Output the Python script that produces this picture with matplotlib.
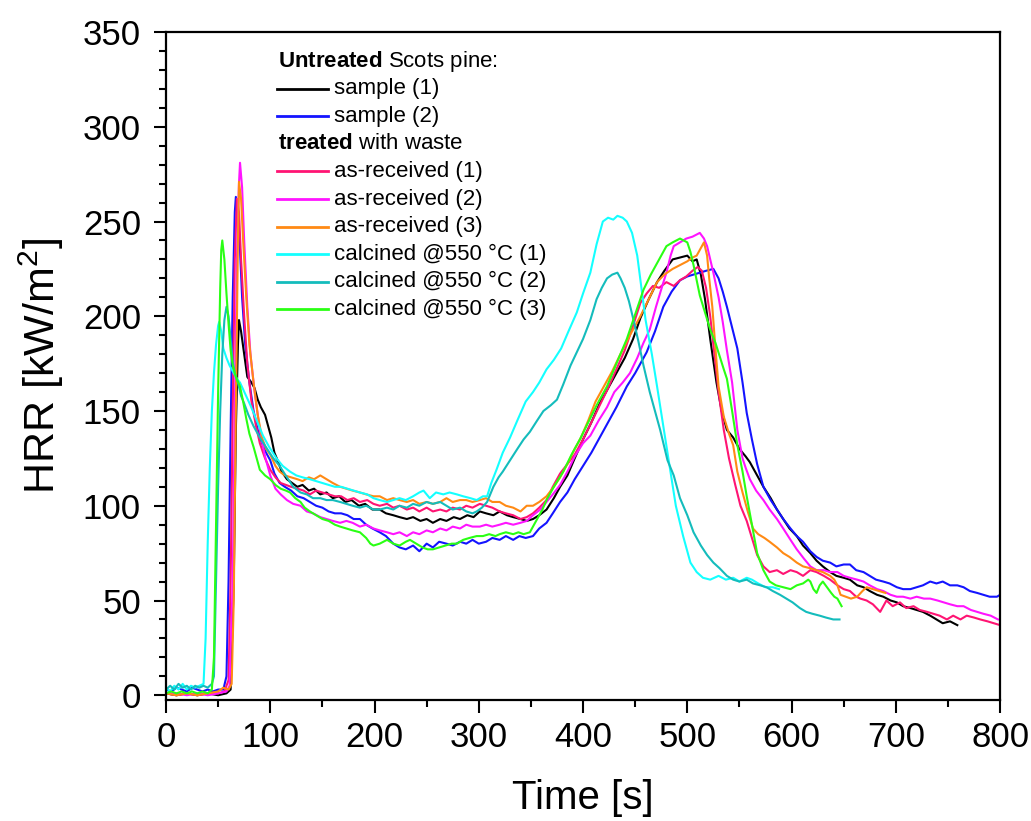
import numpy as np
import matplotlib
matplotlib.use('Agg')
import matplotlib.pyplot as plt
from matplotlib.ticker import MultipleLocator

plt.rcParams['font.family'] = ['Liberation Sans', 'DejaVu Sans']
plt.rcParams['mathtext.fontset'] = 'custom'
plt.rcParams['mathtext.rm'] = 'Liberation Sans'
plt.rcParams['mathtext.bf'] = 'Liberation Sans:bold'

# --- data: (time [s], HRR [kW/m2]) ---
black_t = [0, 10, 20, 30, 40, 50, 58, 62, 65, 67, 69, 70, 72, 75, 78, 82, 85, 88, 91, 95, 98, 101, 104, 107, 111, 116, 121, 126, 131, 137, 142, 148, 154, 160, 166, 172, 178, 185, 191, 198, 205, 211, 218, 224, 231, 237, 244, 250, 256, 263, 269, 276, 282, 289, 295, 301, 307, 314, 320, 327, 333, 340, 346, 352, 358, 365, 372, 378, 385, 392, 400, 408, 416, 424, 432, 440, 448, 455, 463, 471, 478, 486, 493, 500, 505, 509, 513, 517, 522, 528, 533, 538, 544, 550, 556, 560, 566, 573, 580, 586, 592, 598, 605, 611, 618, 624, 630, 637, 643, 650, 656, 663, 669, 675, 682, 688, 695, 701, 707, 714, 720, 726, 733, 739, 745, 752, 759]
black_v = [1, 0, 1, 0, 1, 0, 1, 3, 60, 140, 185, 198, 192, 180, 168, 165, 162, 156, 152, 148, 142, 136, 128, 124, 118, 114, 112, 110, 111, 108, 109, 106, 107, 104, 105, 102, 103, 100, 101, 98, 98, 96, 95, 94, 93, 94, 92, 93, 91, 93, 92, 94, 93, 95, 94, 97, 96, 95, 97, 95, 94, 93, 92, 93, 95, 98, 104, 110, 116, 125, 135, 144, 154, 162, 170, 178, 188, 199, 209, 218, 224, 230, 231, 232, 229, 230, 222, 209, 188, 165, 150, 140, 136, 130, 126, 123, 117, 110, 104, 98, 93, 88, 84, 79, 75, 71, 68, 65, 63, 62, 61, 58, 57, 55, 53, 52, 50, 49, 47, 46, 45, 44, 42, 40, 38, 39, 37]

blue_t = [0, 5, 10, 15, 20, 25, 30, 35, 40, 45, 50, 55, 58, 60, 62, 64, 66, 67, 69, 71, 73, 76, 80, 84, 88, 92, 96, 100, 104, 109, 114, 120, 126, 132, 138, 144, 150, 156, 162, 168, 174, 180, 186, 192, 198, 205, 211, 218, 224, 230, 237, 243, 250, 256, 262, 269, 275, 282, 288, 294, 300, 307, 313, 320, 326, 333, 339, 345, 352, 358, 365, 371, 378, 385, 392, 400, 408, 416, 424, 432, 442, 450, 461, 469, 477, 485, 493, 500, 506, 512, 518, 525, 530, 534, 538, 543, 548, 553, 557, 562, 567, 573, 580, 586, 592, 599, 605, 611, 618, 624, 630, 637, 643, 650, 656, 662, 669, 675, 681, 688, 694, 701, 707, 714, 720, 726, 733, 739, 745, 752, 759, 765, 771, 778, 784, 790, 797, 800]
blue_v = [3, 2, 4, 3, 2, 4, 3, 2, 3, 2, 3, 3, 10, 60, 140, 210, 255, 263, 255, 235, 210, 185, 165, 150, 140, 133, 128, 124, 117, 112, 110, 108, 105, 104, 102, 100, 99, 97, 96, 96, 95, 93, 93, 90, 88, 86, 84, 80, 78, 77, 79, 76, 80, 78, 81, 80, 79, 81, 80, 82, 80, 81, 83, 82, 84, 82, 84, 83, 84, 88, 91, 96, 102, 107, 114, 121, 128, 136, 144, 152, 163, 170, 181, 192, 205, 213, 219, 221, 222, 223, 224, 225, 220, 213, 205, 194, 183, 165, 149, 135, 122, 110, 103, 98, 93, 88, 84, 81, 76, 73, 71, 70, 68, 69, 69, 66, 65, 63, 61, 60, 59, 57, 56, 56, 57, 58, 60, 59, 60, 58, 58, 57, 55, 54, 53, 52, 52, 53]

red_t = [0, 10, 20, 30, 40, 50, 56, 60, 62, 64, 66, 68, 70, 72, 75, 78, 82, 86, 90, 95, 100, 105, 110, 115, 120, 126, 132, 138, 144, 150, 156, 162, 168, 174, 180, 186, 193, 199, 205, 212, 218, 224, 231, 237, 243, 250, 256, 263, 269, 275, 282, 288, 294, 301, 307, 313, 320, 326, 333, 340, 346, 352, 358, 365, 371, 378, 385, 392, 400, 408, 416, 424, 432, 440, 448, 455, 461, 467, 473, 480, 487, 493, 499, 505, 510, 514, 518, 522, 526, 530, 535, 540, 546, 551, 557, 562, 567, 573, 579, 586, 592, 599, 605, 611, 618, 624, 631, 637, 644, 650, 656, 662, 666, 672, 678, 685, 691, 697, 704, 710, 717, 723, 730, 736, 742, 749, 755, 762, 768, 775, 781, 788, 794, 800]
red_v = [1, 0, 1, 0, 1, 1, 2, 8, 60, 150, 230, 262, 255, 230, 200, 175, 155, 143, 133, 125, 119, 115, 112, 111, 110, 109, 108, 106, 108, 107, 106, 105, 105, 103, 104, 102, 103, 101, 100, 101, 99, 100, 98, 99, 97, 99, 97, 98, 97, 99, 98, 100, 99, 101, 100, 99, 97, 96, 95, 93, 94, 96, 99, 103, 110, 117, 122, 127, 135, 144, 153, 162, 172, 182, 195, 207, 212, 216, 215, 218, 216, 219, 221, 224, 226, 224, 215, 200, 180, 160, 140, 125, 111, 100, 92, 83, 74, 68, 65, 66, 64, 66, 65, 63, 66, 65, 63, 61, 58, 56, 55, 52, 51, 50, 48, 44, 50, 47, 49, 46, 47, 45, 44, 43, 42, 40, 42, 40, 42, 41, 40, 39, 38, 37]

magenta_t = [0, 10, 20, 30, 40, 50, 58, 61, 64, 66, 68, 70, 71, 73, 75, 78, 81, 85, 90, 95, 100, 105, 110, 116, 122, 129, 135, 141, 148, 154, 160, 167, 173, 179, 186, 192, 199, 205, 212, 218, 224, 231, 237, 243, 250, 256, 263, 269, 275, 282, 288, 294, 301, 307, 313, 320, 326, 333, 340, 346, 352, 359, 365, 371, 378, 385, 392, 400, 407, 415, 423, 430, 438, 445, 452, 458, 464, 470, 476, 480, 484, 487, 493, 499, 505, 512, 516, 519, 522, 525, 530, 534, 538, 543, 548, 553, 556, 560, 566, 573, 579, 586, 592, 599, 605, 612, 618, 624, 631, 637, 644, 650, 656, 663, 669, 675, 682, 688, 695, 701, 707, 714, 720, 727, 733, 740, 746, 752, 759, 765, 772, 778, 784, 791, 798]
magenta_v = [1, 1, 0, 1, 0, 1, 2, 5, 60, 150, 230, 270, 281, 268, 240, 205, 180, 160, 140, 126, 116, 109, 106, 103, 101, 100, 97, 96, 94, 93, 92, 91, 92, 91, 89, 90, 88, 87, 86, 85, 86, 84, 86, 85, 87, 86, 88, 87, 89, 88, 90, 89, 89, 90, 89, 90, 91, 90, 91, 92, 95, 98, 102, 106, 111, 118, 126, 133, 137, 145, 152, 160, 165, 170, 178, 186, 193, 205, 216, 223, 232, 237, 239, 241, 242, 244, 241, 237, 230, 223, 210, 197, 182, 165, 140, 125, 120, 114, 108, 103, 98, 93, 88, 82, 77, 72, 68, 66, 66, 65, 65, 63, 62, 61, 60, 58, 56, 55, 53, 52, 52, 51, 52, 51, 51, 50, 49, 48, 47, 47, 45, 44, 43, 42, 40]

orange_t = [0, 10, 20, 30, 40, 50, 55, 60, 63, 65, 67, 69, 70, 72, 74, 77, 80, 84, 88, 92, 96, 100, 105, 109, 114, 120, 126, 131, 137, 142, 148, 154, 160, 167, 173, 179, 186, 192, 199, 205, 212, 218, 224, 231, 237, 243, 250, 256, 263, 269, 275, 282, 288, 294, 301, 307, 313, 320, 326, 333, 340, 346, 352, 358, 365, 372, 378, 385, 392, 398, 405, 412, 420, 428, 435, 445, 455, 463, 471, 478, 486, 493, 500, 505, 509, 513, 516, 519, 521, 524, 527, 530, 535, 540, 544, 548, 553, 558, 563, 568, 574, 579, 586, 592, 598, 605, 611, 618, 624, 630, 637, 641, 644, 647, 652, 657, 663, 668, 672, 678, 684, 690]
orange_v = [1, 0, 1, 0, 1, 2, 4, 3, 6, 50, 150, 240, 271, 262, 240, 210, 185, 165, 148, 136, 130, 127, 121, 118, 116, 115, 114, 113, 115, 114, 116, 114, 112, 110, 109, 108, 107, 106, 105, 105, 103, 104, 103, 102, 103, 101, 102, 101, 102, 104, 102, 103, 103, 102, 103, 104, 102, 102, 100, 99, 97, 100, 100, 102, 105, 110, 115, 122, 130, 136, 145, 155, 163, 171, 179, 190, 200, 209, 218, 222, 225, 227, 229, 231, 232, 236, 239, 232, 220, 205, 183, 163, 147, 138, 132, 118, 107, 97, 88, 85, 83, 81, 78, 75, 73, 70, 68, 67, 66, 65, 63, 61, 58, 53, 52, 51, 52, 55, 57, 56, 55, 54]

cyan_t = [0, 4, 8, 12, 16, 20, 24, 28, 32, 36, 38, 40, 42, 44, 46, 48, 50, 51, 53, 55, 58, 61, 65, 68, 71, 76, 81, 87, 93, 99, 106, 112, 119, 125, 131, 138, 144, 150, 156, 162, 168, 174, 180, 186, 193, 199, 205, 212, 218, 224, 230, 237, 243, 247, 253, 259, 266, 272, 279, 285, 292, 298, 304, 308, 312, 317, 323, 330, 337, 345, 352, 358, 365, 372, 379, 386, 394, 400, 407, 413, 419, 424, 429, 433, 438, 442, 447, 452, 456, 460, 466, 471, 477, 483, 489, 496, 503, 509, 515, 522, 530, 537, 544, 550, 557, 562, 568, 575, 582, 588]
cyan_v = [4, 2, 5, 3, 6, 3, 5, 4, 5, 6, 30, 80, 120, 150, 170, 185, 195, 197, 192, 183, 178, 174, 170, 167, 165, 159, 153, 145, 137, 131, 125, 121, 118, 116, 115, 114, 113, 112, 111, 110, 110, 109, 108, 107, 106, 104, 103, 102, 103, 104, 103, 105, 107, 108, 104, 107, 106, 107, 106, 105, 104, 103, 105, 105, 112, 119, 128, 136, 145, 155, 160, 165, 172, 177, 183, 192, 202, 212, 223, 238, 250, 252, 251, 253, 252, 250, 244, 232, 215, 198, 180, 163, 142, 121, 100, 84, 70, 65, 62, 61, 63, 61, 62, 60, 62, 61, 59, 57, 57, 56]

teal_t = [0, 4, 8, 12, 16, 20, 24, 28, 32, 36, 40, 44, 46, 48, 50, 52, 54, 56, 58, 60, 62, 64, 66, 69, 72, 75, 79, 84, 90, 97, 103, 109, 116, 122, 129, 135, 141, 148, 154, 160, 167, 173, 179, 186, 192, 199, 205, 212, 218, 224, 231, 237, 243, 250, 256, 263, 269, 275, 282, 288, 294, 298, 303, 308, 314, 319, 323, 330, 337, 343, 349, 356, 362, 369, 375, 381, 388, 394, 400, 407, 413, 418, 423, 428, 433, 436, 440, 444, 448, 453, 458, 464, 469, 474, 481, 487, 493, 500, 506, 513, 519, 525, 531, 538, 544, 550, 557, 563, 570, 576, 582, 589, 595, 601, 608, 614, 620, 627, 633, 640, 646]
teal_v = [3, 5, 3, 6, 4, 5, 3, 5, 4, 5, 4, 6, 10, 60, 110, 150, 180, 198, 205, 200, 188, 176, 170, 165, 158, 154, 148, 142, 136, 130, 125, 121, 115, 110, 107, 106, 104, 104, 103, 103, 102, 101, 100, 99, 100, 98, 98, 99, 98, 100, 99, 101, 100, 102, 101, 102, 100, 98, 99, 97, 96, 97, 99, 102, 110, 115, 118, 124, 130, 135, 139, 145, 150, 153, 156, 164, 174, 181, 188, 198, 209, 215, 220, 222, 223, 220, 215, 208, 199, 187, 174, 160, 150, 140, 124, 116, 104, 95, 86, 79, 74, 70, 67, 63, 61, 60, 61, 59, 58, 57, 55, 53, 51, 49, 46, 44, 43, 42, 41, 40, 40]

green_t = [0, 5, 10, 15, 20, 25, 30, 35, 40, 44, 46, 48, 50, 52, 53, 54, 56, 58, 60, 62, 64, 67, 71, 74, 77, 80, 84, 87, 90, 95, 100, 105, 110, 115, 119, 124, 129, 133, 138, 144, 150, 156, 162, 167, 173, 179, 186, 192, 196, 199, 205, 212, 218, 224, 230, 234, 240, 246, 251, 256, 262, 268, 274, 279, 285, 291, 298, 304, 310, 316, 320, 326, 333, 338, 343, 349, 353, 356, 361, 365, 372, 381, 389, 397, 405, 413, 423, 432, 442, 450, 458, 465, 471, 476, 480, 486, 493, 500, 503, 506, 509, 512, 517, 522, 527, 531, 535, 538, 543, 548, 553, 557, 562, 567, 573, 579, 585, 592, 599, 605, 611, 616, 618, 621, 624, 627, 630, 634, 638, 641, 644, 648]
green_v = [1, 2, 1, 2, 1, 2, 1, 2, 1, 3, 20, 90, 160, 215, 235, 240, 230, 212, 196, 182, 174, 168, 163, 155, 146, 138, 131, 125, 119, 116, 114, 111, 109, 108, 107, 104, 102, 99, 97, 95, 93, 92, 90, 89, 88, 87, 86, 83, 80, 79, 80, 82, 80, 79, 81, 82, 80, 78, 77, 77, 78, 79, 80, 80, 82, 83, 84, 84, 85, 84, 85, 86, 85, 86, 85, 86, 90, 93, 98, 103, 110, 118, 127, 135, 144, 153, 163, 175, 188, 201, 214, 222, 228, 233, 237, 239, 241, 239, 234, 227, 219, 211, 202, 193, 186, 179, 172, 167, 150, 132, 118, 105, 90, 75, 66, 60, 58, 57, 56, 58, 59, 61, 60, 56, 54, 58, 60, 57, 54, 52, 51, 47]

series = [
    ('sample (1)', black_t, black_v, 'black'),
    ('sample (2)', blue_t, blue_v, '#1414ff'),
    ('as-received (1)', red_t, red_v, '#ff1473'),
    ('as-received (2)', magenta_t, magenta_v, '#ff14ff'),
    ('as-received (3)', orange_t, orange_v, '#ff8a14'),
    ('calcined @550 °C (1)', cyan_t, cyan_v, '#14ffff'),
    ('calcined @550 °C (2)', teal_t, teal_v, '#14bcbc'),
    ('calcined @550 °C (3)', green_t, green_v, '#2aff14'),
]

fig = plt.figure(figsize=(10.31, 8.21), dpi=100)
ax = fig.add_axes([0.161, 0.1474, 0.809, 0.8136])

for label, t, v, c in series:
    ax.plot(t, v, color=c, lw=1.5)

ax.set_xlim(0, 800)
ax.set_ylim(-2.5, 350)
ax.xaxis.set_major_locator(MultipleLocator(100))
ax.xaxis.set_minor_locator(MultipleLocator(50))
ax.yaxis.set_major_locator(MultipleLocator(50))
ax.yaxis.set_minor_locator(MultipleLocator(10))
ax.tick_params(which='both', direction='out', top=False, right=False, width=1.5)
ax.tick_params(which='major', length=9, labelsize=25)
ax.tick_params(axis='x', which='major', pad=6)
ax.tick_params(axis='y', which='major', pad=9)
ax.tick_params(which='minor', length=5)
for s in ax.spines.values():
    s.set_linewidth(1.6)

ax.set_xlabel('Time [s]', fontsize=29, labelpad=18)
ax.set_ylabel('HRR [kW/m$^2$]', fontsize=31, labelpad=12)

# legend drawn by hand: two bold headers with grouped entries below
x_head, x_h0, x_h1, x_txt = 0.134, 0.133, 0.194, 0.201
y0, dy = 0.956, 0.0412
rows = [('hdr', r'$\bf{Untreated}$ Scots pine:', None)] + \
       [('ent', s[0], s[3]) for s in series[:2]] + \
       [('hdr', r'$\bf{treated}$ with waste', None)] + \
       [('ent', s[0], s[3]) for s in series[2:]]
for i, (kind, txt, c) in enumerate(rows):
    y = y0 - i * dy
    if kind == 'hdr':
        ax.text(x_head, y, txt, transform=ax.transAxes, fontsize=16, va='center', ha='left')
    else:
        ax.plot([x_h0, x_h1], [y, y], transform=ax.transAxes, color=c, lw=2)
        ax.text(x_txt, y, txt, transform=ax.transAxes, fontsize=16, va='center', ha='left')

fig.savefig('out.png', dpi=100)
